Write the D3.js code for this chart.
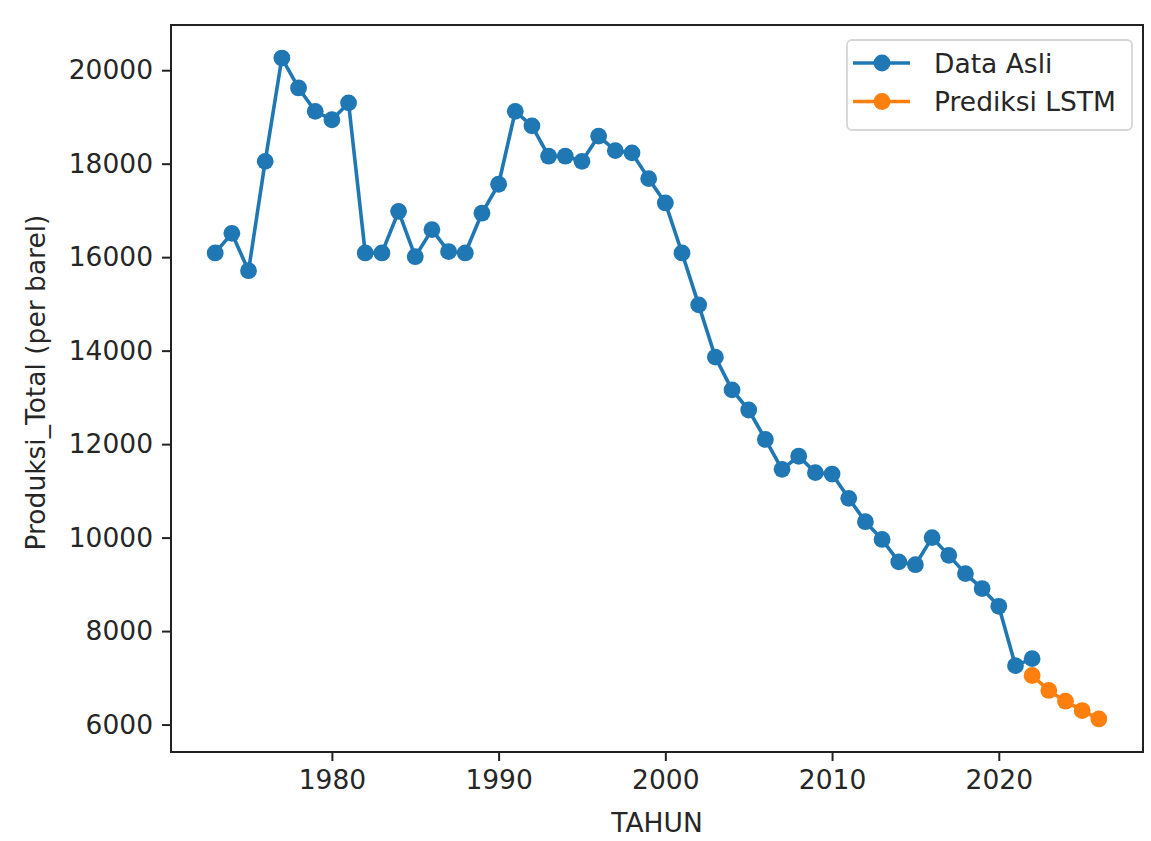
<!DOCTYPE html>
<html>
<head>
<meta charset="utf-8">
<script src="https://cdn.jsdelivr.net/npm/d3@7"></script>
<style>
  body { margin: 0; background: #fff; }
  text { font-family: "DejaVu Sans", sans-serif; fill: #262626; }
</style>
</head>
<body>
<script>
// Original data (TAHUN vs Produksi_Total)
var years = [1973,1974,1975,1976,1977,1978,1979,1980,1981,1982,1983,1984,1985,1986,1987,1988,1989,1990,
  1991,1992,1993,1994,1995,1996,1997,1998,1999,2000,2001,2002,2003,2004,2005,2006,2007,2008,2009,2010,
  2011,2012,2013,2014,2015,2016,2017,2018,2019,2020,2021,2022];
var produksi = [16090,16510,15710,18050,20260,19620,19120,18940,19300,16090,16090,16980,16010,16590,16120,16090,16940,17560,
  19120,18810,18160,18160,18050,18590,18280,18230,17680,17160,16090,14980,13860,13160,12730,12100,11460,11740,11390,11360,
  10840,10340,9960,9480,9420,10000,9620,9230,8910,8530,7260,7410];

// LSTM prediction
var predYears = [2022,2023,2024,2025,2026];
var prediksi = [7050,6730,6500,6300,6120];

var xTicks = [1980,1990,2000,2010,2020];
var yTicks = [6000,8000,10000,12000,14000,16000,18000,20000];

var W = 1151, H = 841;
var margin = {top: 25, right: 8, bottom: 89, left: 171};
var width = W - margin.left - margin.right,
    height = H - margin.top - margin.bottom;
var fs = '26.5px';

var svg = d3.select('body').append('svg')
  .attr('width', W)
  .attr('height', H);

var main = svg.append('g')
  .attr('transform', 'translate(' + margin.left + ',' + margin.top + ')');

// matplotlib style 5% padding
var allX = years.concat(predYears), allY = produksi.concat(prediksi);
var xMin = d3.min(allX), xMax = d3.max(allX);
var yMin = d3.min(allY), yMax = d3.max(allY);
var xPad = (xMax - xMin) * 0.05, yPad = (yMax - yMin) * 0.05;

var x = d3.scaleLinear().domain([xMin - xPad, xMax + xPad]).range([0, width]);
var y = d3.scaleLinear().domain([yMin - yPad, yMax + yPad]).range([height, 0]);

// axes
var xAxis = d3.axisBottom(x).tickValues(xTicks).tickFormat(d3.format('d'))
  .tickSize(9).tickPadding(8);
var yAxis = d3.axisLeft(y).tickValues(yTicks).tickFormat(d3.format('d'))
  .tickSize(9).tickPadding(9);

var gx = main.append('g').attr('transform', 'translate(0,' + height + ')').call(xAxis);
var gy = main.append('g').call(yAxis);
[gx, gy].forEach(function (g) {
  g.select('.domain').remove();
  g.selectAll('line').attr('stroke', '#222').attr('stroke-width', 2);
  g.selectAll('text').style('font-size', fs).attr('fill', '#262626');
});
gx.selectAll('text').attr('dy', '0.76em');

// lines + markers
var line = d3.line().x(function (d) { return x(d[0]); }).y(function (d) { return y(d[1]); });

function series(xs, ys, color) {
  var pts = xs.map(function (v, i) { return [v, ys[i]]; });
  main.append('path').datum(pts)
    .attr('d', line)
    .attr('fill', 'none')
    .attr('stroke', color)
    .attr('stroke-width', 3.6)
    .attr('stroke-linejoin', 'round');
  main.append('g').selectAll('circle').data(pts).enter().append('circle')
    .attr('cx', function (d) { return x(d[0]); })
    .attr('cy', function (d) { return y(d[1]); })
    .attr('r', 8.4)
    .attr('fill', color);
}
series(years, produksi, '#1f77b4');
series(predYears, prediksi, '#ff7f0e');

// frame
main.append('rect')
  .attr('width', width).attr('height', height)
  .attr('fill', 'none').attr('stroke', '#222').attr('stroke-width', 2);

// axis labels
main.append('text')
  .attr('x', width / 2).attr('y', height + 80)
  .attr('text-anchor', 'middle')
  .style('font-size', fs)
  .text('TAHUN');

svg.append('text')
  .attr('transform', 'translate(45,' + (margin.top + height / 2 - 6) + ') rotate(-90)')
  .attr('text-anchor', 'middle')
  .style('font-size', fs)
  .text('Produksi_Total (per barel)');

// legend
var legendItems = [
  {label: 'Data Asli', color: '#1f77b4'},
  {label: 'Prediksi LSTM', color: '#ff7f0e'}
];
var lg = svg.append('g').attr('transform', 'translate(847,40)');
lg.append('rect')
  .attr('width', 285).attr('height', 90).attr('rx', 5)
  .attr('fill', '#fff').attr('fill-opacity', 0.8)
  .attr('stroke', '#d6d6d6').attr('stroke-width', 1.8);
var li = lg.selectAll('.li').data(legendItems).enter().append('g')
  .attr('transform', function (d, i) { return 'translate(0,' + (23 + i * 38.5) + ')'; });
li.append('line')
  .attr('x1', 6).attr('x2', 63)
  .attr('stroke', function (d) { return d.color; })
  .attr('stroke-width', 3.6);
li.append('circle')
  .attr('cx', 35).attr('r', 8.4)
  .attr('fill', function (d) { return d.color; });
li.append('text')
  .attr('x', 87).attr('dy', '0.36em')
  .style('font-size', fs)
  .text(function (d) { return d.label; });
</script>
</body>
</html>
